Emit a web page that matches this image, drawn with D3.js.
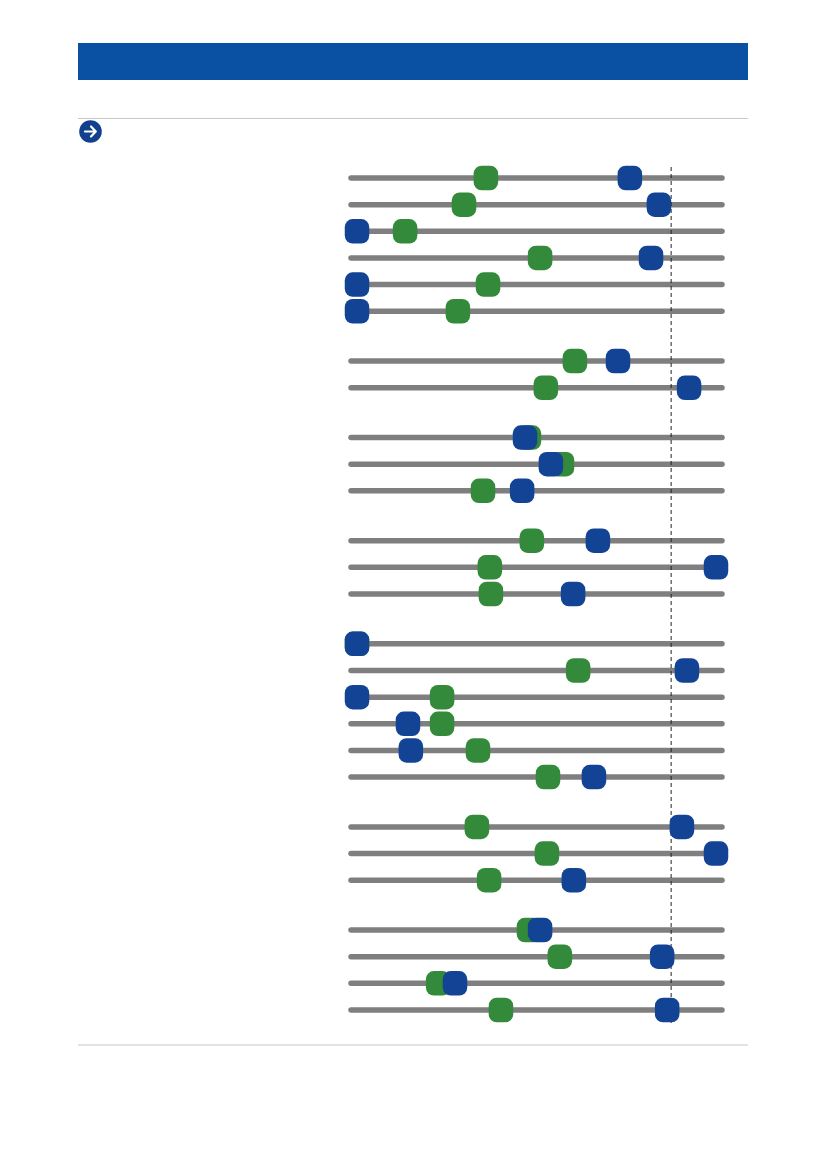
<!DOCTYPE html>
<html>
<head>
<meta charset="utf-8">
<script src="https://cdn.jsdelivr.net/npm/d3@7"></script>
<style>
  body { margin: 0; background: #fff; }
  svg { display: block; }
</style>
</head>
<body>
<script>
// rows per group, top to bottom
const groupSizes = [6, 2, 3, 3, 6, 3, 4]

// green and blue marker values per row (0-100 scale)
const greenValues = [
    35.9, 29.8, 13.4, 51.0, 36.5, 28.1,
    60.7, 52.6,
    47.9, 57.1, 35.1,
    48.7, 37.0, 37.3,
    0, 61.6, 23.7, 23.7, 33.7, 53.2,
    33.4, 52.9, 36.8,
    47.9, 56.5, 22.6, 40.1
]
const blueValues = [
    76.0, 84.1, 0, 81.9, 0, 0,
    72.7, 92.5,
    46.8, 54.0, 46.0,
    67.1, 100, 60.2,
    0, 91.9, 0, 14.2, 15.0, 66.0,
    90.5, 100, 60.4,
    51.0, 85.0, 27.3, 86.4
]
const referenceValue = 87.5

const width = 826, height = 1169
const green = "#338a3a", blue = "#134395"

const svg = d3.select("body").append("svg")
    .attr("width", width)
    .attr("height", height)

// page frame: header bar, rules, arrow icon
svg.append("rect")
    .attr("x", 78).attr("y", 43)
    .attr("width", 670).attr("height", 37)
    .attr("fill", "#0a51a4")

svg.append("line")
    .attr("x1", 78).attr("x2", 748)
    .attr("y1", 118.5).attr("y2", 118.5)
    .attr("stroke", "#c8c8c8").attr("stroke-width", 1.2)

svg.append("line")
    .attr("x1", 78).attr("x2", 748)
    .attr("y1", 1045).attr("y2", 1045)
    .attr("stroke", "#c8c8c8").attr("stroke-width", 1.2)

const icon = svg.append("g").attr("transform", "translate(90.5,131.5)")
icon.append("circle").attr("r", 11.3).attr("fill", "#123f8e")
icon.append("path")
    .attr("d", "M-5.5,0 H5 M0.5,-5 L5.3,0 L0.5,5")
    .attr("fill", "none")
    .attr("stroke", "#fff")
    .attr("stroke-width", 2.2)
    .attr("stroke-linecap", "round")
    .attr("stroke-linejoin", "round")

// rows: slot position with extra gap between groups
const rows = []
let slot = 0
groupSizes.forEach(function (n, gi) {
    for (let k = 0; k < n; k++) {
        rows.push({ slot: slot, green: greenValues[rows.length], blue: blueValues[rows.length] })
        slot += 1
    }
    slot += 0.87
})
const lastSlot = rows[rows.length - 1].slot

const x = d3.scaleLinear().domain([0, 100]).range([357, 716])
const y = d3.scaleLinear().domain([0, lastSlot]).range([178, 1010])

const chart = svg.append("g")

chart.selectAll(".track")
    .data(rows)
    .enter().append("line")
    .attr("class", "track")
    .attr("x1", x(0) - 6)
    .attr("x2", x(100) + 6)
    .attr("y1", d => y(d.slot))
    .attr("y2", d => y(d.slot))
    .attr("stroke", "#7f7f7f")
    .attr("stroke-width", 5.5)
    .attr("stroke-linecap", "round")

chart.append("line")
    .attr("x1", x(referenceValue)).attr("x2", x(referenceValue))
    .attr("y1", y(0) - 11).attr("y2", y(lastSlot) + 13)
    .attr("stroke", "#222")
    .attr("stroke-width", 1)
    .attr("stroke-dasharray", "4,3")

const size = 24.5

function drawMarkers(key, color) {
    chart.selectAll(".m-" + key)
        .data(rows)
        .enter().append("rect")
        .attr("class", "m-" + key)
        .attr("x", d => x(d[key]) - size / 2)
        .attr("y", d => y(d.slot) - size / 2)
        .attr("width", size)
        .attr("height", size)
        .attr("rx", 8)
        .attr("fill", color)
}

drawMarkers("green", green)
drawMarkers("blue", blue)
</script>
</body>
</html>
